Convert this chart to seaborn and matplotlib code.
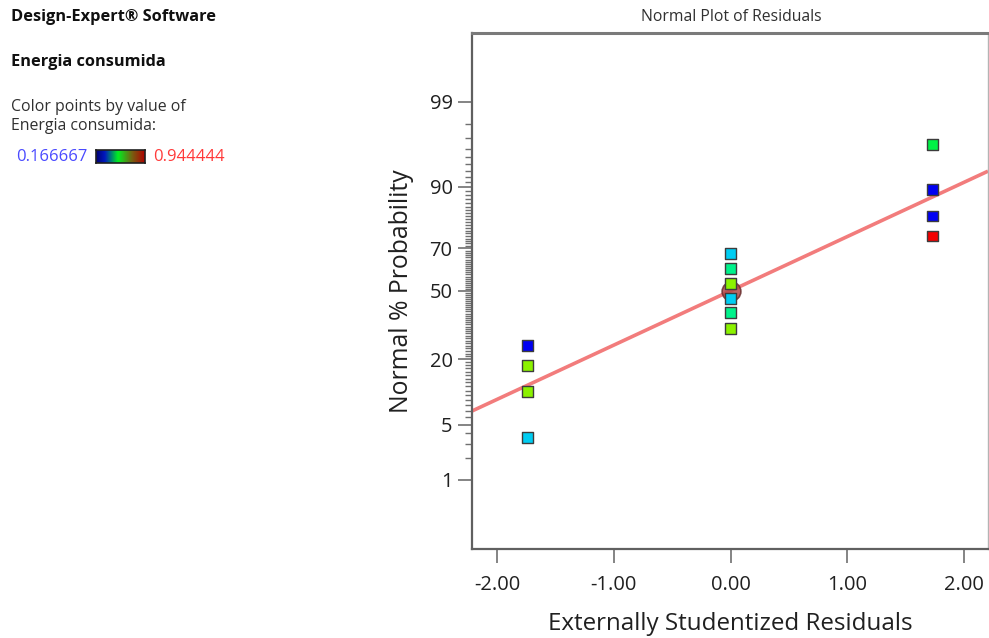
import numpy as np
import pandas as pd
import matplotlib
matplotlib.use("Agg")
import matplotlib.pyplot as plt
from matplotlib.colors import LinearSegmentedColormap, hsv_to_rgb
from statistics import NormalDist
import seaborn as sns

# ---- data -------------------------------------------------------------
# externally studentized residuals (sorted by rank)
residuals = [-1.74, -1.74, -1.74, -1.74,
             0.0, 0.0, 0.0, 0.0, 0.0, 0.0,
             1.73, 1.73, 1.73, 1.73]
# normal % probability of each ranked residual
normal_pct = [3.57, 10.71, 17.86, 25.00,
              32.14, 39.29, 46.43, 53.57, 60.71, 67.86,
              75.00, 82.14, 89.29, 96.43]
# response value used to colour each point
energia = [0.333333, 0.666667, 0.666667, 0.166667,
           0.666667, 0.444444, 0.333333, 0.666667, 0.444444, 0.333333,
           0.944444, 0.166667, 0.166667, 0.500000]
resp_min, resp_max = 0.166667, 0.944444

# reference normal line (mean, sd of residual distribution)
line_mean, line_sd = 0.0, 1.5
# highlighted point
marker_x, marker_pct = 0.0, 50.0

x_ticks = [-2.0, -1.0, 0.0, 1.0, 2.0]
y_major_pct = [1, 5, 20, 50, 70, 90, 99]
y_minor_pct = [p for p in range(1, 100) if p not in y_major_pct]

# ---- helpers ----------------------------------------------------------
nd = NormalDist()
def probit(p_pct):
    return np.array([nd.inv_cdf(v / 100.0) for v in np.atleast_1d(p_pct)])

# blue -> cyan -> green -> yellow -> red, hue-linear
hues = np.linspace(240, 0, 64) / 360.0
cols = hsv_to_rgb(np.column_stack([hues, np.ones_like(hues), np.full_like(hues, 0.95)]))
point_cmap = LinearSegmentedColormap.from_list("resp", cols)
bar_cmap = LinearSegmentedColormap.from_list(
    "bar", [(0.0, "#000070"), (0.18, "#0018c0"), (0.45, "#00f020"),
            (0.75, "#7a5a10"), (1.0, "#b00000")])

sns.set_theme(style="white")
plt.rcParams["font.family"] = ["Open Sans", "DejaVu Sans"]

W, H = 989, 638
fig = plt.figure(figsize=(W / 100, H / 100), dpi=100)
ax = fig.add_axes([472 / W, 1 - 549 / H, (988 - 472) / W, (549 - 32.7) / H])

df = pd.DataFrame({"res": residuals, "z": probit(normal_pct), "val": energia})

# fitted normal line
xl = np.array([-2.217, 2.208])
ax.plot(xl, (xl - line_mean) / line_sd, color="#f27c7c", lw=2.6, zorder=2,
        solid_capstyle="butt")

# highlighted point
ax.plot([marker_x], probit(marker_pct), marker="o", ms=13.5,
        markerfacecolor="#b04848", markeredgecolor="#6a3030",
        markeredgewidth=1.2, alpha=0.85, zorder=3, linestyle="none")

sns.scatterplot(data=df, x="res", y="z", hue="val", palette=point_cmap,
                hue_norm=(resp_min, resp_max), marker="s", s=62,
                edgecolor="#3c3c3c", linewidth=1.0, legend=False, ax=ax,
                zorder=4)

ax.set_xlim(-2.217, 2.208)
ax.set_ylim(-3.175, 3.175)

ax.set_xticks(x_ticks)
ax.set_xticklabels([f"{v:.2f}" for v in x_ticks])
ax.set_yticks(probit(y_major_pct))
ax.set_yticklabels([str(p) for p in y_major_pct])
ax.set_yticks(probit(y_minor_pct), minor=True)

ax.tick_params(axis="both", which="major", direction="out", length=10,
               width=1.2, color="#707070", labelsize=14.5, labelcolor="#202020",
               left=True, bottom=True)
ax.tick_params(axis="y", which="minor", direction="out", length=5,
               width=1.0, color="#707070", left=True)
ax.tick_params(axis="x", which="major", pad=9)
ax.tick_params(axis="y", which="major", pad=4)

ax.set_xlabel("Externally Studentized Residuals", fontsize=17.4, color="#202020",
              labelpad=12)
ax.set_ylabel("Normal % Probability", fontsize=17.8, color="#202020", labelpad=11)

for side, c, lw in [("top", "#7a7a7a", 2.2), ("left", "#606060", 1.6),
                    ("bottom", "#606060", 1.6), ("right", "#b4b4b4", 1.0)]:
    ax.spines[side].set_visible(True)
    ax.spines[side].set_color(c)
    ax.spines[side].set_linewidth(lw)

def ftext(xp, yp, s, **kw):
    fig.text(xp / W, 1 - yp / H, s, va="center", **kw)

ftext(731, 17, "Normal Plot of Residuals", ha="center", fontsize=11.3,
      color="#303030")
ftext(11, 17, "Design-Expert® Software", ha="left", fontsize=11.8,
      fontweight="bold", color="#101010")
ftext(11, 62, "Energia consumida", ha="left", fontsize=11.8,
      fontweight="bold", color="#101010")
ftext(11, 107, "Color points by value of", ha="left", fontsize=11.4,
      color="#303030")
ftext(11, 126, "Energia consumida:", ha="left", fontsize=11.4, color="#303030")
ftext(16, 157, f"{resp_min:.6f}", ha="left", fontsize=12, color="#4a4aff")
ftext(153, 157, f"{resp_max:.6f}", ha="left", fontsize=12, color="#ff3a3a")

cax = fig.add_axes([96 / W, 1 - 163 / H, 49 / W, 13 / H])
cax.imshow(np.linspace(0, 1, 256)[None, :], aspect="auto", cmap=bar_cmap)
cax.set_xticks([])
cax.set_yticks([])
for sp in cax.spines.values():
    sp.set_visible(True)
    sp.set_color("#202020")
    sp.set_linewidth(1.2)

fig.savefig("out.png", dpi=100)
